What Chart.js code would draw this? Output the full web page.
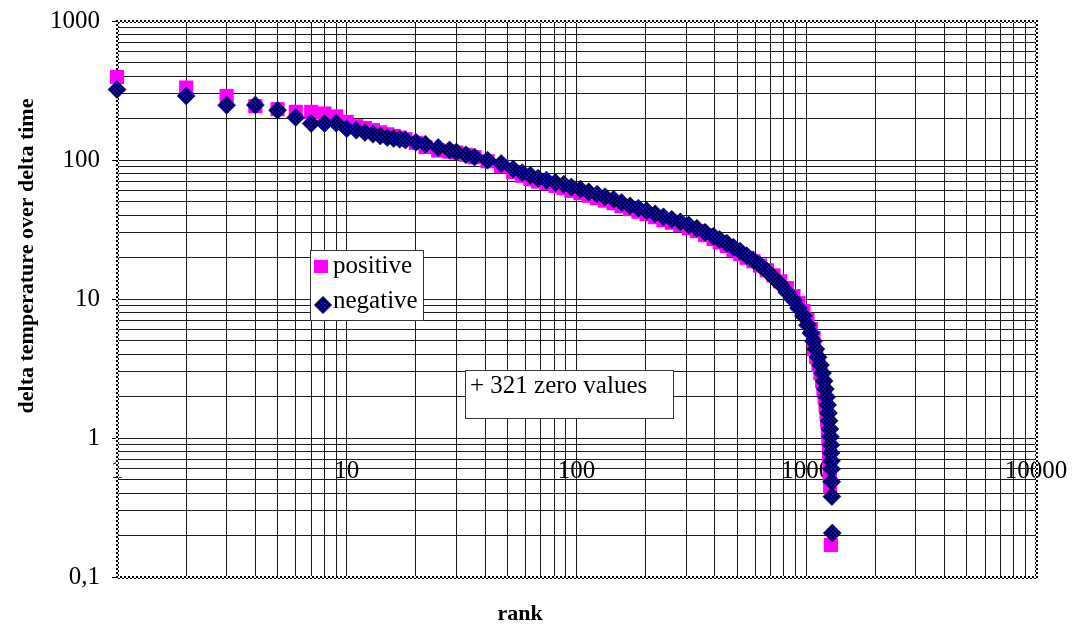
<!DOCTYPE html>
<html>
<head>
<meta charset="utf-8">
<script src="https://cdn.jsdelivr.net/npm/chart.js@4.4.0/dist/chart.umd.min.js"></script>
<style>
  html, body { margin: 0; padding: 0; background: #fff; }
  #chart { display: block; }
</style>
</head>
<body>
<canvas id="chart" width="1074" height="629"></canvas>
<script>
// axis decades and their labels (German decimal comma on the y axis)
const xDecades = [1, 10, 100, 1000, 10000];
const xTickLabels = ['1', '10', '100', '1000', '10000'];
const yDecades = [0.1, 1, 10, 100, 1000];
const yTickLabels = ['0,1', '1', '10', '100', '1000'];
const minorSteps = [2, 3, 4, 5, 6, 7, 8, 9];

// values (rank, delta T / delta t)
const posRanks = [1, 2, 3, 4, 5, 6, 7, 8, 9, 10, 11, 12, 13, 14, 15, 16, 17, 18, 20, 22, 25, 28, 30, 33, 36,
  41, 47, 53, 58, 63, 68, 74, 81, 88, 95, 104, 113, 123, 133, 145, 157, 171, 186, 202, 220,
  239, 260, 283, 308, 334, 363, 395, 420, 451, 482, 516, 550, 589, 630, 674, 720, 770, 823, 880, 925,
  972, 1012, 1047, 1075, 1082, 1105, 1130, 1153, 1173, 1188, 1202, 1214, 1225, 1233,
  1242, 1249, 1254, 1258, 1262, 1265, 1267, 1271, 1280, 1282];
const posValues = [396, 332, 289, 244, 232, 222, 222, 216, 206, 188, 175, 170, 164, 158, 153, 149, 145, 141, 133, 124, 117, 115, 113, 109, 104.7,
  98, 90.2, 81.7, 77, 72.8, 70, 68.1, 65, 62.7, 60, 57.7, 55.3, 53.1, 51, 48.9, 46.5, 44.3, 42.5, 40.8, 38.8,
  36.9, 35.4, 34, 32.3, 30.8, 28.8, 27, 25.5, 24, 22.5, 21, 19.8, 18.7, 17.4, 16.1, 14.8, 13.4, 11.98, 10.5, 9.34,
  8.18, 7.05, 6.08, 5.24, 4.36, 3.82, 3.35, 2.93, 2.57, 2.25, 1.97, 1.73, 1.51, 1.33,
  1.16, 1.02, 0.891, 0.78, 0.684, 0.599, 0.524, 0.444, 0.17, 0.078];

const negRanks = [1, 2, 3, 4, 5, 6, 7, 8, 9, 10, 11, 12, 13, 14, 15, 16, 17, 18, 20, 22, 25, 28, 30, 33, 36,
  41, 47, 53, 58, 63, 68, 74, 81, 88, 95, 104, 113, 123, 133, 145, 157, 171, 186, 202, 220,
  239, 260, 283, 308, 334, 363, 395, 420, 451, 482, 516, 550, 589, 630, 674, 720, 770, 823, 880, 925,
  972, 1012, 1047, 1075, 1101, 1127, 1153, 1177, 1196, 1212, 1227, 1239, 1249, 1258, 1267, 1275,
  1280, 1283, 1287, 1289, 1291, 1293, 1298];
const negValues = [321, 289, 248, 249, 228, 202, 183, 183, 184, 168, 164, 158, 153, 149, 145, 143, 141, 139, 134, 130, 123, 118, 114, 109, 105,
  99.7, 94.4, 86.3, 81, 77.7, 74, 71.6, 69, 67, 64, 61.7, 59, 56.8, 54.5, 52.3, 49.5, 46.8, 45, 43.1, 41,
  39, 37.4, 35.9, 34, 32.3, 30.2, 28.3, 26.8, 25.2, 23.6, 22.1, 20.5, 19, 17.5, 15.9, 14.3, 12.8, 11.2, 9.82, 8.6,
  7.54, 6.49, 5.69, 4.98, 4.36, 3.82, 3.35, 2.93, 2.57, 2.25, 1.97, 1.73, 1.51, 1.33, 1.16, 1.02,
  0.891, 0.78, 0.684, 0.599, 0.485, 0.379, 0.207];

const seriesLabels = ['positive', 'negative'];
const zeroNote = '+ 321 zero values';
const xTitle = 'rank';
const yTitle = 'delta temperature over delta time';

const serif = '"Liberation Serif", "Times New Roman", serif';
const gridColor = '#1a1a1a';

const canvas = document.getElementById('chart');
const mainCtx = canvas.getContext('2d');

function checker(c1, c2, cell) {
  const c = document.createElement('canvas');
  c.width = c.height = cell * 2;
  const g = c.getContext('2d');
  g.fillStyle = c1;
  g.fillRect(0, 0, cell * 2, cell * 2);
  g.fillStyle = c2;
  g.fillRect(0, 0, cell, cell);
  g.fillRect(cell, cell, cell, cell);
  return mainCtx.createPattern(c, 'repeat');
}

const diamondFill = checker('#0000ff', '#000000', 2);
const frameFill = checker('#ffffff', '#000000', 2);

function logTicks(decades) {
  const ticks = [];
  decades.forEach((d, i) => {
    ticks.push({ value: d, major: true });
    if (i < decades.length - 1) minorSteps.forEach(m => ticks.push({ value: d * m, major: false }));
  });
  return ticks;
}

const toPoints = (xs, ys) => xs.map((x, i) => ({ x: x, y: ys[i] }));

// keep tick label overhang from pushing the plot area around
function noOverhang(s) {
  s.paddingTop = 0;
  s.paddingBottom = 0;
  s.paddingLeft = 0;
  s.paddingRight = 0;
}

function drawDiamond(ctx, x, y, r) {
  ctx.beginPath();
  ctx.moveTo(x, y - r);
  ctx.lineTo(x + r, y);
  ctx.lineTo(x, y + r);
  ctx.lineTo(x - r, y);
  ctx.closePath();
  ctx.fillStyle = diamondFill;
  ctx.fill();
  ctx.lineWidth = 1;
  ctx.strokeStyle = '#000';
  ctx.stroke();
}

// dotted plot frame, under the markers
const framePlugin = {
  id: 'frame',
  beforeDatasetsDraw(chart) {
    const { ctx, chartArea: a } = chart;
    const w = a.right - a.left, h = a.bottom - a.top;
    ctx.save();
    ctx.fillStyle = frameFill;
    ctx.fillRect(a.left - 1, a.top - 1, w + 2, 3);
    ctx.fillRect(a.left - 1, a.bottom - 1, w + 2, 3);
    ctx.fillRect(a.left - 1, a.top - 1, 3, h + 2);
    ctx.fillRect(a.right - 1, a.top - 1, 3, h + 2);
    ctx.restore();
  }
};

// axis titles, legend box and the note
const extrasPlugin = {
  id: 'extras',
  afterDraw(chart) {
    const ctx = chart.ctx;
    ctx.save();
    ctx.fillStyle = '#000';
    ctx.font = 'bold 22px ' + serif;
    ctx.textAlign = 'center';
    ctx.textBaseline = 'alphabetic';
    ctx.fillText(xTitle, 520, 620);
    ctx.save();
    ctx.translate(33, 256);
    ctx.rotate(-Math.PI / 2);
    ctx.fillText(yTitle, 0, 0);
    ctx.restore();

    // legend
    ctx.fillStyle = '#fff';
    ctx.fillRect(310, 250, 113, 70);
    ctx.strokeStyle = '#333';
    ctx.lineWidth = 1;
    ctx.strokeRect(310.5, 250.5, 113, 70);
    ctx.fillStyle = '#ff00ff';
    ctx.fillRect(314, 260, 14, 13);
    drawDiamond(ctx, 323, 305, 8.5);
    ctx.fillStyle = '#000';
    ctx.font = '25px ' + serif;
    ctx.textAlign = 'left';
    ctx.fillText(seriesLabels[0], 333, 273);
    ctx.fillText(seriesLabels[1], 333, 308);

    // zero values note
    ctx.fillStyle = '#fff';
    ctx.fillRect(465, 370, 208, 48);
    ctx.strokeStyle = '#333';
    ctx.strokeRect(465.5, 370.5, 208, 48);
    ctx.fillStyle = '#000';
    ctx.fillText(zeroNote, 470, 393);
    ctx.restore();
  }
};

const markerClip = { left: 12, top: 12, right: 12, bottom: 11 };

new Chart(mainCtx, {
  type: 'scatter',
  data: {
    datasets: [{
      label: seriesLabels[0],
      data: toPoints(posRanks, posValues),
      pointStyle: 'rect',
      pointRadius: 10,
      pointHoverRadius: 10,
      backgroundColor: '#ff00ff',
      borderWidth: 0,
      order: 1,
      clip: markerClip
    }, {
      label: seriesLabels[1],
      data: toPoints(negRanks, negValues),
      pointStyle: 'rectRot',
      pointRadius: 9,
      pointHoverRadius: 9,
      backgroundColor: diamondFill,
      borderColor: '#000033',
      borderWidth: 0.6,
      order: 0,
      clip: markerClip
    }]
  },
  options: {
    responsive: false,
    animation: false,
    devicePixelRatio: 1,
    layout: { padding: { left: 0, top: 21, right: 38, bottom: 52 } },
    plugins: {
      legend: { display: false },
      tooltip: { enabled: false }
    },
    scales: {
      x: {
        type: 'logarithmic',
        min: 1,
        max: 10000,
        position: { y: 1 },
        afterBuildTicks: s => { s.ticks = logTicks(xDecades); },
        afterFit: noOverhang,
        grid: { color: gridColor, lineWidth: 1, drawTicks: false },
        border: { display: false },
        ticks: {
          autoSkip: false,
          maxRotation: 0,
          padding: 18,
          color: '#000',
          font: { family: serif, size: 25 },
          callback: v => { const i = xDecades.indexOf(v); return i >= 0 ? xTickLabels[i] : ''; }
        }
      },
      y: {
        type: 'logarithmic',
        min: 0.1,
        max: 1000,
        position: 'left',
        afterBuildTicks: s => { s.ticks = logTicks(yDecades); },
        afterFit: s => { s.width = 117; noOverhang(s); },
        grid: {
          color: gridColor,
          lineWidth: 1,
          tickLength: 5,
          tickColor: c => (c.tick && c.tick.major ? '#000' : 'rgba(0,0,0,0)')
        },
        border: { display: false },
        ticks: {
          autoSkip: false,
          padding: 12,
          color: '#000',
          font: { family: serif, size: 25 },
          callback: v => { const i = yDecades.indexOf(v); return i >= 0 ? yTickLabels[i] : ''; }
        }
      }
    }
  },
  plugins: [framePlugin, extrasPlugin]
});
</script>
</body>
</html>
